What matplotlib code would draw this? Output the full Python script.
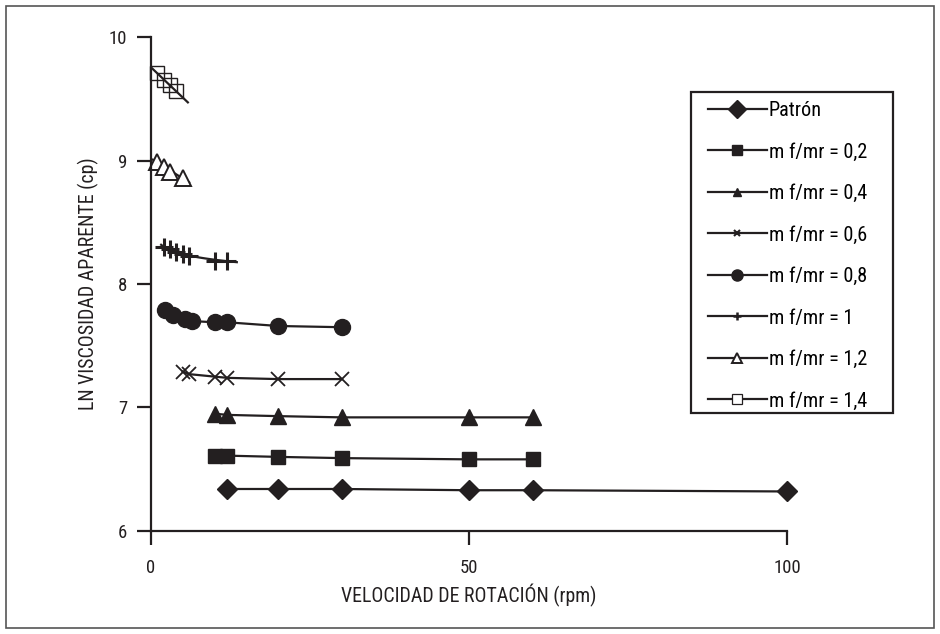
import matplotlib
matplotlib.use("Agg")
import matplotlib.pyplot as plt
from matplotlib import font_manager
from matplotlib.lines import Line2D
from matplotlib.patches import Rectangle
import numpy as np

# fuente condensada parecida a la del original, si existe
disponibles = set(f.name for f in font_manager.fontManager.ttflist)
fuente = 'Roboto'
for nombre in ['Liberation Sans Narrow', 'Roboto Condensed', 'Open Sans Condensed']:
    if nombre in disponibles:
        fuente = nombre
        break
plt.rcParams['font.family'] = [fuente, 'DejaVu Sans']

# datos (rpm, ln viscosidad)
x_patron = [12, 20, 30, 50, 60, 100]
y_patron = [6.34, 6.34, 6.34, 6.33, 6.33, 6.32]

x_02 = [10, 12, 20, 30, 50, 60]
y_02 = [6.61, 6.61, 6.60, 6.59, 6.58, 6.58]

x_04 = [10, 12, 20, 30, 50, 60]
y_04 = [6.95, 6.94, 6.93, 6.92, 6.92, 6.92]

x_06 = [5, 6, 10, 12, 20, 30]
y_06 = [7.29, 7.27, 7.25, 7.24, 7.23, 7.23]

x_08 = [2.2, 3.5, 5.3, 6.4, 10, 12, 20, 30]
y_08 = [7.79, 7.75, 7.72, 7.70, 7.69, 7.69, 7.66, 7.65]

x_10 = [2, 3, 4, 5, 6, 10, 12]
y_10 = [8.30, 8.28, 8.26, 8.24, 8.23, 8.19, 8.19]

x_12 = [1, 2, 3, 5]
y_12 = [8.99, 8.95, 8.91, 8.86]

x_14 = [1, 2, 3, 4]
y_14 = [9.71, 9.65, 9.61, 9.56]

etiquetas = ["Patrón", "m f/mr = 0,2", "m f/mr = 0,4", "m f/mr = 0,6",
             "m f/mr = 0,8", "m f/mr = 1", "m f/mr = 1,2", "m f/mr = 1,4"]

negro = '#231f20'
tam = 14.3 if fuente != 'Roboto' else 12.5

fig = plt.figure(figsize=(9.4, 6.34), dpi=100)
fig.patches.append(Rectangle((0.0065, 0.009), 0.987, 0.982, transform=fig.transFigure,
                             fill=False, edgecolor='#555555', linewidth=1.2))
ax = fig.add_axes([0.1606, 0.1625, 0.6766, 0.7791])

lw = 1.6
ax.plot(x_patron, y_patron, color=negro, lw=lw, marker='D', ms=10, mfc=negro, mec=negro, clip_on=False)
ax.plot(x_02, y_02, color=negro, lw=lw, marker='s', ms=10, mfc=negro, mec=negro, clip_on=False)
ax.plot(x_04, y_04, color=negro, lw=lw, marker='^', ms=11, mfc=negro, mec=negro, clip_on=False)
ax.plot(x_06, y_06, color=negro, lw=lw, marker='x', ms=10, mew=1.3, mec=negro, clip_on=False)
ax.plot(x_08, y_08, color=negro, lw=lw, marker='o', ms=11.5, mfc=negro, mec=negro, clip_on=False)

# lineas de tendencia para las series de alta concentracion
c10 = np.polyfit(np.log(x_10), y_10, 1)
xt10 = np.linspace(1.6, 13.5, 50)
ax.plot(xt10, np.polyval(c10, np.log(xt10)), color=negro, lw=lw, clip_on=False)
ax.plot(x_10, y_10, ls='none', marker='+', ms=13, mew=2.2, mec=negro, clip_on=False)

c12 = np.polyfit(x_12, y_12, 1)
xt12 = np.array([0.3, 6.0])
ax.plot(xt12, np.polyval(c12, xt12), color=negro, lw=lw, clip_on=False)
ax.plot(x_12, y_12, ls='none', marker='^', ms=11, mfc='white', mec=negro, mew=1.4, clip_on=False)

c14 = np.polyfit(x_14, y_14, 1)
xt14 = np.array([0.2, 5.8])
ax.plot(x_14, y_14, ls='none', marker='s', ms=10, mfc='none', mec=negro, mew=1.0, clip_on=False)
ax.plot(xt14, np.polyval(c14, xt14), color=negro, lw=lw, clip_on=False)

ax.set_xlim(0, 100)
ax.set_ylim(6, 10)
ax.set_xticks([0, 50, 100])
ax.set_yticks([6, 7, 8, 9, 10])
for s in ['top', 'right']:
    ax.spines[s].set_visible(False)
for s in ['left', 'bottom']:
    ax.spines[s].set_linewidth(1.6)
    ax.spines[s].set_color(negro)
ax.tick_params(direction='out', length=10, width=1.6, color=negro,
               labelsize=13.5, labelcolor=negro)
ax.tick_params(axis='x', pad=10)
ax.tick_params(axis='y', pad=7)
ax.set_xlabel("VELOCIDAD DE ROTACIÓN (rpm)", fontsize=tam, color=negro, labelpad=5)
ax.set_ylabel("LN VISCOSIDAD APARENTE (cp)", fontsize=tam, color=negro, labelpad=7)

# recuadro de la leyenda (mas ancho que el que da matplotlib)
ax.add_patch(Rectangle((0.849, 0.2389), 0.3177, 0.6498, transform=ax.transAxes,
                       fill=False, edgecolor=negro, linewidth=1.6, clip_on=False))

marcadores = [dict(marker='D', mfc=negro, ms=9), dict(marker='s', mfc=negro, ms=7),
              dict(marker='^', mfc=negro, ms=6), dict(marker='x', ms=4, mew=1.5),
              dict(marker='o', mfc=negro, ms=8), dict(marker='+', ms=6, mew=1.8),
              dict(marker='^', mfc='white', ms=7, mew=1.4), dict(marker='s', mfc='white', ms=7, mew=0.9)]
handles = [Line2D([], [], color=negro, lw=lw, mec=negro, **m) for m in marcadores]
leg = ax.legend(handles, etiquetas, loc='upper left', bbox_to_anchor=(0.8758, 0.8705),
                frameon=False, fontsize=14.6,
                handlelength=2.9, handletextpad=0.1, labelspacing=1.11,
                borderpad=0, borderaxespad=0)

fig.savefig("out.png", dpi=100)
